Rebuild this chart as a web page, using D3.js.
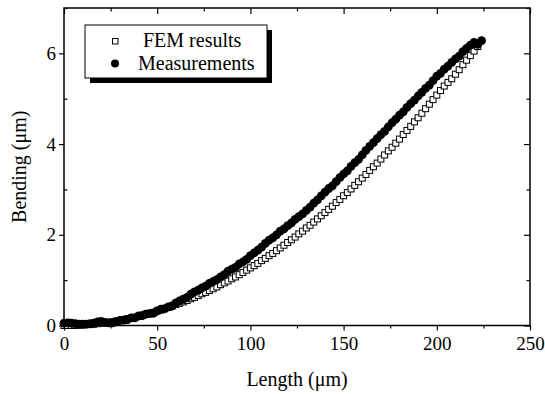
<!DOCTYPE html>
<html>
<head>
<meta charset="utf-8">
<script src="https://cdn.jsdelivr.net/npm/d3@7"></script>
<style>
  body { margin: 0; background: #fff; }
  svg text { font-family: "Liberation Serif", "Times New Roman", serif; fill: #000; }
</style>
</head>
<body>
<div id="chart"></div>
<script>
// FEM results (open squares)
var femLength = [0,2,4,6,8,10,12,14,16,18,20,22,24,26,28,30,32,34,36,38,40,42,44,46,48,50,52,54,56,58,60,62,64,66,68,70,72,74,76,78,80,82,84,86,88,90,92,94,96,98,100,102,104,106,108,110,112,114,116,118,120,122,124,126,128,130,132,134,136,138,140,142,144,146,148,150,152,154,156,158,160,162,164,166,168,170,172,174,176,178,180,182,184,186,188,190,192,194,196,198,200,202,204,206,208,210,212,214,216,218,220,222];
var femBending = [0.00,0.00,0.00,0.00,0.01,0.01,0.02,0.02,0.03,0.04,0.05,0.06,0.07,0.08,0.10,0.11,0.13,0.15,0.16,0.18,0.20,0.22,0.25,0.27,0.29,0.32,0.34,0.37,0.40,0.43,0.46,0.49,0.52,0.55,0.59,0.62,0.66,0.70,0.73,0.77,0.81,0.85,0.90,0.94,0.98,1.03,1.07,1.12,1.17,1.22,1.27,1.32,1.37,1.43,1.48,1.54,1.59,1.65,1.71,1.77,1.83,1.89,1.95,2.02,2.08,2.15,2.21,2.28,2.35,2.42,2.49,2.56,2.63,2.71,2.78,2.86,2.93,3.01,3.09,3.17,3.25,3.33,3.42,3.50,3.58,3.67,3.76,3.85,3.93,4.02,4.11,4.21,4.30,4.39,4.49,4.58,4.68,4.78,4.88,4.98,5.08,5.18,5.28,5.36,5.44,5.54,5.64,5.75,5.85,5.95,6.05,6.15];

// Measurements (filled circles)
var measLength = [0,2,4,6,8,10,12,14,16,18,20,22,24,26,28,30,32,34,36,38,40,42,44,46,48,50,52,54,56,58,60,62,64,66,68,70,72,74,76,78,80,82,84,86,88,90,92,94,96,98,100,102,104,106,108,110,112,114,116,118,120,122,124,126,128,130,132,134,136,138,140,142,144,146,148,150,152,154,156,158,160,162,164,166,168,170,172,174,176,178,180,182,184,186,188,190,192,194,196,198,200,202,204,206,208,210,212,214,216,218,220,222,224];
var measBending = [0.05,0.06,0.05,0.04,0.03,0.03,0.03,0.04,0.05,0.08,0.09,0.07,0.06,0.06,0.08,0.11,0.12,0.13,0.17,0.17,0.21,0.22,0.25,0.26,0.27,0.32,0.36,0.37,0.41,0.43,0.50,0.54,0.58,0.62,0.69,0.74,0.78,0.83,0.87,0.93,0.97,1.01,1.07,1.12,1.20,1.24,1.28,1.36,1.40,1.46,1.54,1.60,1.66,1.73,1.81,1.88,1.93,2.00,2.08,2.13,2.20,2.26,2.34,2.40,2.46,2.54,2.61,2.70,2.77,2.86,2.94,3.02,3.08,3.17,3.26,3.34,3.41,3.51,3.59,3.66,3.76,3.86,3.95,4.03,4.12,4.21,4.28,4.38,4.47,4.55,4.64,4.71,4.81,4.89,4.97,5.06,5.14,5.23,5.30,5.40,5.50,5.56,5.65,5.72,5.80,5.88,5.94,6.04,6.11,6.18,6.24,6.20,6.28];

var xTicks = [0,50,100,150,200,250];
var xMinor = [25,75,125,175,225];
var yTicks = [0,2,4,6];
var yMinor = [1,3,5,7];
var legendLabels = ["FEM results","Measurements"];

var W = 545, H = 394;
var pLeft = 64, pRight = 530, pTop = 8, pBottom = 325.5;

var svg = d3.select("#chart").append("svg")
    .attr("width", W)
    .attr("height", H);

var x = d3.scaleLinear().domain([0,250]).range([pLeft, pRight]);
var y = d3.scaleLinear().domain([0,7]).range([pBottom, pTop]);

// data
var fem = femLength.map(function(d,i){ return {x:d, y:femBending[i]}; });
var meas = measLength.map(function(d,i){ return {x:d, y:measBending[i]}; });

var plot = svg.append("g");
plot.selectAll("rect.fem")
  .data(fem).enter().append("rect")
    .attr("class","fem")
    .attr("x", function(d){ return x(d.x)-3; })
    .attr("y", function(d){ return y(d.y)-3; })
    .attr("width", 6).attr("height", 6)
    .attr("fill","#fff").attr("stroke","#000").attr("stroke-width",1);

plot.selectAll("circle.meas")
  .data(meas).enter().append("circle")
    .attr("class","meas")
    .attr("cx", function(d){ return x(d.x); })
    .attr("cy", function(d){ return y(d.y); })
    .attr("r", 4.4)
    .attr("fill","#000");

// axes
function styleAxis(g){
  g.select(".domain").remove();
  g.selectAll(".tick line").attr("stroke","#000").attr("stroke-width",1.2);
  g.selectAll(".tick text").attr("font-size", 19).attr("font-family","Liberation Serif, serif");
}
var ax = svg.append("g").attr("transform","translate(0,"+pBottom+")")
  .call(d3.axisBottom(x).tickValues(xTicks).tickSize(5).tickPadding(6).tickFormat(d3.format("d")));
styleAxis(ax);
var axm = svg.append("g").attr("transform","translate(0,"+pBottom+")")
  .call(d3.axisBottom(x).tickValues(xMinor).tickSize(3).tickFormat(""));
styleAxis(axm);
var axt = svg.append("g").attr("transform","translate(0,"+pTop+")")
  .call(d3.axisBottom(x).tickValues(xTicks).tickSize(6).tickFormat(""));
styleAxis(axt);
var axtm = svg.append("g").attr("transform","translate(0,"+pTop+")")
  .call(d3.axisBottom(x).tickValues(xMinor).tickSize(3.5).tickFormat(""));
styleAxis(axtm);

var ay = svg.append("g").attr("transform","translate("+pLeft+",0)")
  .call(d3.axisLeft(y).tickValues(yTicks).tickSize(5).tickPadding(3).tickFormat(d3.format("d")));
styleAxis(ay);
var aym = svg.append("g").attr("transform","translate("+pLeft+",0)")
  .call(d3.axisRight(y).tickValues(yMinor).tickSize(3.5).tickFormat(""));
styleAxis(aym);
var ayr = svg.append("g").attr("transform","translate("+pRight+",0)")
  .call(d3.axisLeft(y).tickValues(yTicks).tickSize(6).tickFormat(""));
styleAxis(ayr);
var ayrm = svg.append("g").attr("transform","translate("+pRight+",0)")
  .call(d3.axisLeft(y).tickValues(yMinor).tickSize(3.5).tickFormat(""));
styleAxis(ayrm);

// frame
svg.append("rect")
  .attr("x", pLeft).attr("y", pTop)
  .attr("width", pRight-pLeft).attr("height", pBottom-pTop)
  .attr("fill","none").attr("stroke","#000").attr("stroke-width",1.5);

// axis titles
svg.append("text")
  .attr("x", (pLeft+pRight)/2).attr("y", 386)
  .attr("text-anchor","middle").attr("font-size",20)
  .text("Length (\u03bcm)");
svg.append("text")
  .attr("transform","translate(26,"+((pTop+pBottom)/2)+") rotate(-90)")
  .attr("text-anchor","middle").attr("font-size",20)
  .text("Bending (\u03bcm)");

// legend with shadow
var lg = svg.append("g");
lg.append("rect").attr("x",90).attr("y",30).attr("width",182).attr("height",53).attr("fill","#000");
lg.append("rect").attr("x",85).attr("y",25).attr("width",182).attr("height",53)
  .attr("fill","#fff").attr("stroke","#000").attr("stroke-width",1);
lg.append("rect").attr("x",112.5).attr("y",38.5).attr("width",5.5).attr("height",5.5)
  .attr("fill","#fff").attr("stroke","#000").attr("stroke-width",1);
lg.append("circle").attr("cx",115).attr("cy",63.5).attr("r",4).attr("fill","#000");
lg.append("text").attr("x",143).attr("y",47).attr("font-size",20).text(legendLabels[0]);
lg.append("text").attr("x",138).attr("y",70).attr("font-size",20).text(legendLabels[1]);
</script>
</body>
</html>
